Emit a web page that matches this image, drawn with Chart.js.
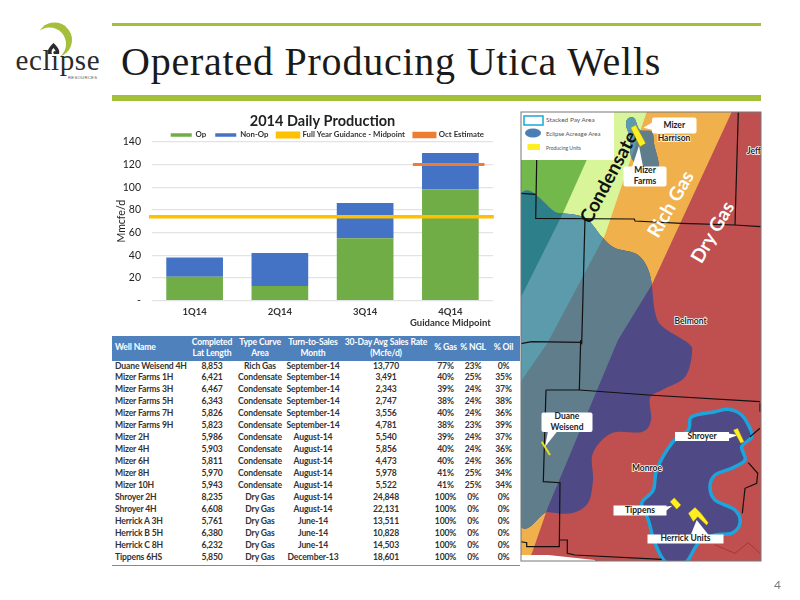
<!DOCTYPE html>
<html><head><meta charset="utf-8">
<script src="https://cdn.jsdelivr.net/npm/chart.js@4"></script>
<style>
html,body{margin:0;padding:0;background:#fff;width:800px;height:600px;overflow:hidden;font-family:Lato,sans-serif}
.abs{position:absolute}
#pageTitle{left:121px;top:38px;font:40px "Liberation Serif",serif;letter-spacing:0.77px;color:#1a1a1a;white-space:nowrap}
#rule1{left:112px;top:23px;width:649px;height:2.5px;background:#a4bf3a}
#rule2{left:112px;top:95px;width:649px;height:6px;background:#a4bf3a}
#pg{left:774px;top:577px;font:12px Lato,sans-serif;color:#777}
#wrap{left:110px;top:105px;width:390px;height:230px}
#tb{left:112px;top:335.5px;width:408px;border-collapse:collapse;table-layout:fixed;font:700 8.6px/11.94px Lato,sans-serif;letter-spacing:-0.15px;color:#333}
#tb th{background:#4f81bd;color:#fff;font-weight:700;padding:0;height:25px;text-align:center;line-height:11.5px;vertical-align:middle;white-space:nowrap}
#tb th:first-child{text-align:left;padding-left:3px}
#tb td{padding:0;height:11.94px;text-align:center;white-space:nowrap;overflow:visible}
#tb td:first-child{text-align:left;padding-left:3px}
#tb tr:last-child td{border-bottom:1.5px solid #888;padding-bottom:1.5px}
svg{position:absolute;left:0;top:0}
</style></head><body>
<svg id="logo" width="112" height="100" viewBox="0 0 112 100">
 <circle cx="54.5" cy="40" r="17.5" fill="#a4bf3a"/><circle cx="49.5" cy="44" r="16.5" fill="#fff"/>
 <path d="M53.5,43 C49,47.500 47,50 48,54 L59,54 C60,50 58,47.500 53.500,43Z" fill="#2b2b2b"/>
 <path d="M53.500,48 C51.500,50 51,52 52,54 L55.500,54 C56.200,52 55.500,50 53.500,48Z" fill="#fff"/>
 <text x="15.500" y="70" font-family="Liberation Serif" font-size="29" letter-spacing="0.6" fill="#2b2b2b">eclipse</text>
 <text x="68" y="79" font-family="Liberation Sans" font-size="4.200" letter-spacing="0.3" fill="#555">RESOURCES</text>
</svg>
<div class="abs" id="rule1"></div><div class="abs" id="rule2"></div>
<div class="abs" id="pageTitle">Operated Producing Utica Wells</div>
<div class="abs" id="wrap"><canvas id="c" width="390" height="230"></canvas></div>
<table class="abs" id="tb"><colgroup><col style="width:78px"><col style="width:44px"><col style="width:52px"><col style="width:54px"><col style="width:92px"><col style="width:27px"><col style="width:28px"><col style="width:33px"></colgroup><thead></thead><tbody></tbody></table>
<svg id="map" width="800" height="600" viewBox="0 0 800 600"></svg>
<div class="abs" id="pg">4</div>
<script>
// Chart data
const quarters = ['1Q14','2Q14','3Q14',['4Q14','Guidance Midpoint']];
const opValues = [21,13,55,98];
const nonOpValues = [17,29,31,32];
const guidanceLevel = 74;
const octLevel = 120;
const yTicks = [0,20,40,60,80,100,120,140];

// Table data
const tableHeaders = ['Well Name','Completed<br>Lat Length','Type Curve<br>Area','Turn-to-Sales<br>Month','30-Day Avg Sales Rate<br>(Mcfe/d)','% Gas','% NGL','% Oil'];
const wellNames = ['Duane Weisend 4H','Mizer Farms 1H','Mizer Farms 3H','Mizer Farms 5H','Mizer Farms 7H','Mizer Farms 9H','Mizer 2H','Mizer 4H','Mizer 6H','Mizer 8H','Mizer 10H','Shroyer 2H','Shroyer 4H','Herrick A 3H','Herrick B 5H','Herrick C 8H','Tippens 6HS'];
const latLengths = ['8,853','6,421','6,467','6,343','5,826','5,823','5,986','5,903','5,811','5,970','5,943','8,235','6,608','5,761','6,380','6,232','5,850'];
const curveAreas = ['Rich Gas','Condensate','Condensate','Condensate','Condensate','Condensate','Condensate','Condensate','Condensate','Condensate','Condensate','Dry Gas','Dry Gas','Dry Gas','Dry Gas','Dry Gas','Dry Gas'];
const salesMonths = ['September-14','September-14','September-14','September-14','September-14','September-14','August-14','August-14','August-14','August-14','August-14','August-14','August-14','June-14','June-14','June-14','December-13'];
const salesRates = ['13,770','3,491','2,343','2,747','3,556','4,781','5,540','5,856','4,473','5,978','5,522','24,848','22,131','13,511','10,828','14,503','18,601'];
const pctGas = ['77%','40%','39%','38%','40%','38%','39%','40%','40%','41%','41%','100%','100%','100%','100%','100%','100%'];
const pctNgl = ['23%','25%','24%','24%','24%','23%','24%','24%','24%','25%','25%','0%','0%','0%','0%','0%','0%'];
const pctOil = ['0%','35%','37%','38%','36%','39%','37%','36%','36%','34%','34%','0%','0%','0%','0%','0%','0%'];

document.querySelector('#tb thead').innerHTML = '<tr>'+tableHeaders.map(h=>`<th>${h}</th>`).join('')+'</tr>';
document.querySelector('#tb tbody').innerHTML = wellNames.map((n,i)=>'<tr>'+[n,latLengths[i],curveAreas[i],salesMonths[i],salesRates[i],pctGas[i],pctNgl[i],pctOil[i]].map(v=>`<td>${v}</td>`).join('')+'</tr>').join('');

new Chart(document.getElementById('c'),{
  type:'bar',
  data:{labels:quarters,datasets:[
    {label:'Op',data:opValues,backgroundColor:'#70ad47',order:2,grouped:false,barPercentage:0.665,categoryPercentage:1},
    {label:'Non-Op',data:nonOpValues,backgroundColor:'#4472c4',order:2,grouped:false,barPercentage:0.665,categoryPercentage:1},
    {type:'line',label:'Full Year Guidance - Midpoint',data:[{x:-0.035,y:guidanceLevel},{x:4.01,y:guidanceLevel}],xAxisID:'x2',borderColor:'#ffc000',backgroundColor:'#ffc000',borderWidth:3.5,pointRadius:0,stack:'g',order:0,clip:false},
    {type:'line',label:'Oct Estimate',data:[{x:3.06,y:octLevel},{x:3.9,y:octLevel}],xAxisID:'x2',borderColor:'#ed7d31',backgroundColor:'#ed7d31',borderWidth:3,pointRadius:0,stack:'o',order:0,clip:false}
  ]},
  options:{
    responsive:false,animation:false,
    layout:{padding:{left:5,right:7,top:4,bottom:0}},
    plugins:{
      title:{display:true,fullSize:false,text:'2014 Daily Production',color:'#222',font:{family:'Lato',size:14.5,weight:'bold'},padding:{top:3.3,bottom:-7.7}},
      legend:{position:'top',fullSize:false,align:'end',maxHeight:19.7,labels:{boxWidth:21,boxHeight:3.5,padding:9,color:'#333',font:{family:'Lato',size:7.8,weight:'bold'},sort:(a,b)=>a.datasetIndex-b.datasetIndex}},
      tooltip:{enabled:false}
    },
    scales:{
      x:{stacked:true,grid:{display:false,drawTicks:false},border:{display:false},ticks:{color:'#333',font:{family:'Lato',size:9.5,weight:'bold'},maxRotation:0,autoSkip:false,padding:5.5},afterFit(s){s.height=34.3}},
      x2:{type:'linear',display:false,min:0,max:4,offset:false,grid:{offset:false}},
      y:{stacked:true,min:0,max:140,afterBuildTicks(s){s.ticks=yTicks.map(v=>({value:v}))},grid:{color:'#e3e3e3',lineWidth:1.2,drawTicks:false},border:{display:false},
         ticks:{color:'#222',font:{family:'Lato',size:10.5},padding:11,callback:v=>v===0?'-':v},
         title:{display:true,text:'Mmcfe/d',color:'#222',font:{family:'Lato',size:10.5},padding:{top:0,bottom:1}},
         afterFit(s){s.width=37}}
    }
  }
});

// Map illustration
const Z3=(p)=>p.map(([x,y])=>[x/3+515,y/3+105]);
const Z4=(p)=>p.map(([x,y])=>[x/3+515,y/3+340]);
const poly=p=>'M'+p.map(q=>q[0].toFixed(1)+','+q[1].toFixed(1)).join('L')+'Z';
const line=p=>'M'+p.map(q=>q[0].toFixed(1)+','+q[1].toFixed(1)).join('L');
function smooth(p){let d='M'+p[0].join(',');const n=p.length;for(let i=0;i<n;i++){const a=p[(i-1+n)%n],b=p[i],c=p[(i+1)%n],e=p[(i+2)%n];
 d+=`C${(b[0]+(c[0]-a[0])/6).toFixed(1)},${(b[1]+(c[1]-a[1])/6).toFixed(1)} ${(c[0]-(e[0]-b[0])/6).toFixed(1)},${(c[1]-(e[1]-b[1])/6).toFixed(1)} ${c[0].toFixed(1)},${c[1].toFixed(1)}`;}return d+'Z';}
const orangeBand=[[521,112],[731.7,112],[651.7,285],[618,340],[548,507],[532,553],[528,561],[521,561]];
const paleBand=[[521,112],[646.7,112],[605,235],[548,342],[522,380],[521,385]];
const greenBand=[[521,112],[608,112],[586.7,160],[563,213],[522,295],[521,297]];
const blobMain=[[515,212],[558,213],[585,218],[602,237],[615,248],[638,255],[650,275],[655,312],[663,327],[688,343],[692,353],[685,377],[662,390],[650,398],[651,420],[642,432],[612,433],[593,453],[593,480],[588,503],[572,513],[548,512],[515,505]];
const blobTop=Z3([[340,40],[358,40],[375,75],[410,80],[418,120],[430,185],[385,185],[350,160],[345,100],[333,60]]);
const payArea=Z4([[455,670],[420,610],[400,540],[380,490],[415,450],[425,390],[470,310],[520,270],[530,230],[600,215],[640,208],[680,225],[705,265],[710,292],[680,320],[690,360],[650,385],[600,405],[585,440],[600,480],[660,510],[675,550],[650,580],[600,585],[550,610],[510,670]]);
const countyLines=[
 Z3([[65,165],[62,340],[358,342],[360,348],[500,355],[660,360],[737,365]]),
 Z3([[670,22],[660,360]]),
 Z3([[17,265],[62,268]]),
 Z3([[210,340],[200,718]]),
 Z3([[17,716],[50,710],[200,712]]),
 Z4([[197,0],[193,150]]),
 Z4([[93,150],[193,150],[400,165],[735,185]]),
 Z4([[93,150],[85,425],[135,428],[133,620],[35,620],[35,608],[17,605]]),
 Z4([[133,600],[157,600],[157,640],[180,645],[440,658]]),
 Z4([[700,368],[728,400],[725,430],[690,445],[682,520]]),
 Z4([[705,290],[735,265]]),
 Z4([[735,190],[735,215]])
];
const S=[];
S.push(`<defs><clipPath id="frame"><rect x="521" y="112" width="240" height="449"/></clipPath><clipPath id="acre"><path d="${smooth(blobMain)}"/><path d="${smooth(blobTop)}"/></clipPath></defs>`);
S.push('<g clip-path="url(#frame)">');
S.push(`<rect x="521" y="112" width="240" height="449" fill="#c04f4f"/>`);
S.push(`<path d="${poly(orangeBand)}" fill="#f0b04c"/><path d="${poly(paleBand)}" fill="#d8f59a"/><path d="${poly(greenBand)}" fill="#72b84a"/>`);
S.push(`<g clip-path="url(#acre)"><rect x="521" y="112" width="240" height="449" fill="#4f4a85"/><path d="${poly(orangeBand)}" fill="#607d8b"/><path d="${poly(paleBand)}" fill="#5b9bab"/><path d="${poly(greenBand)}" fill="#2d7f8a"/></g>`);
S.push(`<path d="${smooth(payArea)}" fill="#4f4a85" stroke="#1ba5dc" stroke-width="3.5"/>`);
S.push(`<path d="${line(Z4([[600,615],[660,640],[700,608],[735,640]]))}" fill="none" stroke="#8c3030" stroke-width="0.7"/>`);
countyLines.forEach(l=>S.push(`<path d="${line(l)}" fill="none" stroke="#111" stroke-width="1.2"/>`));
S.push(`<path d="${poly(Z4([[17,645],[100,645],[240,660],[240,670],[17,670]]))}" fill="#fff"/>`);
// Legend box
S.push(`<rect x="521" y="112" width="93" height="48" fill="#fff"/>`);
S.push(`<rect x="524" y="116" width="19" height="9" fill="#fff" stroke="#1ba5dc" stroke-width="1.5"/>`);
S.push(`<ellipse cx="533" cy="133" rx="8" ry="4.5" fill="#4a7fb5"/>`);
S.push(`<rect x="527.500" y="144" width="12.500" height="6" fill="#ffee22"/>`);
[['Stacked Pay Area',122,6.5],['Eclipse Acreage Area',136,6],['Producing Units',150,5]].forEach(t=>S.push(`<text x="546" y="${t[1]}" font-family="Lato" font-size="${t[2]}" fill="#555">${t[0]}</text>`));
// Band labels
const band=(t,x,y,sz,c,r)=>S.push(`<text transform="translate(${x},${y}) rotate(${r})" text-anchor="middle" dominant-baseline="middle" font-family="Lato" font-weight="700" font-size="${sz}" fill="${c}">${t}</text>`);
band('Condensate',610,178,19,'#111',-62);
band('Rich Gas',672,205,19,'#fff',-60);
band('Dry Gas',714,233,19,'#fff',-60);
// County names
const cty=(t,x,y)=>S.push(`<text x="${x}" y="${y}" text-anchor="middle" dominant-baseline="middle" font-family="Lato" font-size="8.500" font-weight="700" fill="#222" stroke="#fff" stroke-width="1.5" paint-order="stroke">${t}</text>`);
cty('Harrison',674,139);cty('Belmont',690.500,322);cty('Monroe',647,469);cty('Jeff',754,152);
// Callouts
const tri=(p,fill='#fff')=>S.push(`<path d="${poly(p)}" fill="${fill}"/>`);
tri(Z3([[385,68],[415,50],[415,75]]));tri(Z3([[372,122],[350,190],[385,190]]));tri(Z4([[90,320],[100,270],[130,270]]));tri(Z4([[670,285],[635,280],[635,298]]));tri(Z4([[472,497],[450,500],[450,515]]));tri(Z4([[545,540],[525,590],[585,590]]));
const box=(x0,y0,x1,y1,lines,r=2)=>{S.push(`<rect x="${x0}" y="${y0}" width="${x1-x0}" height="${y1-y0}" rx="${r}" fill="#fff"/>`);const cy=(y0+y1)/2;lines.forEach((t,i)=>S.push(`<text x="${(x0+x1)/2}" y="${cy+(i-(lines.length-1)/2)*10.500}" text-anchor="middle" dominant-baseline="middle" font-family="Lato" font-size="8.500" font-weight="700" fill="#222">${t}</text>`));};
box(652,117.500,696.500,133.500,['Mizer']);
box(623.500,166.500,666.500,186.500,['Mizer','Farms']);
box(541.500,412.500,592.500,432,['Duane','Weisend']);
box(675,432,729,441,['Shroyer'],0);
box(613.500,505.500,666.500,515.500,['Tippens'],0);
box(647.500,534.500,723.500,543.500,['Herrick Units'],0);
// Producing units on top of the callout pointers
[Z3([[347,68],[362,60],[392,115],[375,125]]),Z4([[655,270],[668,265],[687,305],[677,310]]),Z4([[465,485],[478,473],[498,495],[485,508]]),Z4([[520,520],[540,502],[558,520],[580,548],[575,556],[548,530],[535,545]])].forEach(u=>S.push(`<path d="${poly(u)}" fill="#ffee22" stroke="#998800" stroke-width="0.4"/>`));
S.push(`<path d="${line(Z4([[80,305],[105,345]]))}" stroke="#e8e020" stroke-width="2" fill="none"/>`);
S.push('</g>');
S.push(`<rect x="521" y="112" width="240" height="449" fill="none" stroke="#777" stroke-width="1"/>`);
document.getElementById('map').innerHTML=S.join('');
</script>
</body></html>
